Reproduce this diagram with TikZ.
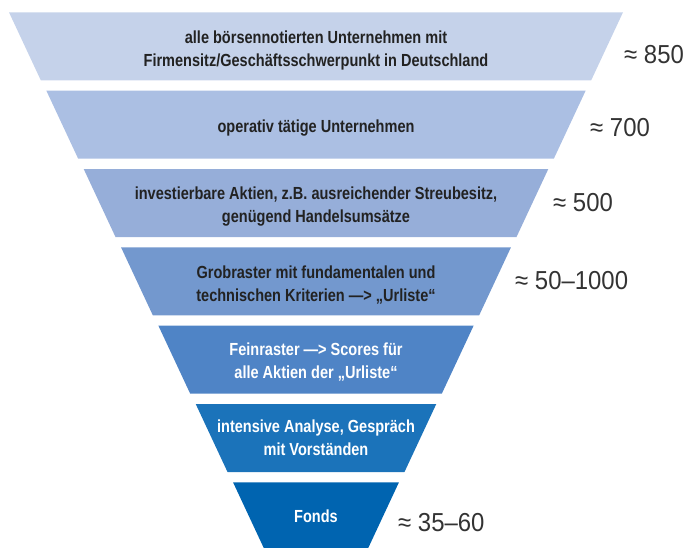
\documentclass[tikz,border=0pt]{standalone}
\usepackage{fontspec}
\usepackage{tikz}
\usetikzlibrary{positioning}

\newfontfamily\stufefont[FakeStretch=0.83]{Liberation Sans}
\newfontfamily\zahlfont[FakeStretch=0.92]{Liberation Sans}

\definecolor{stufeA}{HTML}{C5D2EA}
\definecolor{stufeB}{HTML}{ABBFE3}
\definecolor{stufeC}{HTML}{96AED9}
\definecolor{stufeD}{HTML}{7398CE}
\definecolor{stufeE}{HTML}{4F84C6}
\definecolor{stufeF}{HTML}{1B73BA}
\definecolor{stufeG}{HTML}{0064B0}
\definecolor{schrift}{HTML}{222222}
\definecolor{zahl}{HTML}{333333}

\tikzset{
	stufentext/.style={inner sep=0pt, align=center, text=schrift,
		font=\stufefont\bfseries\fontsize{17.5}{23.3}\selectfont},
	hell/.style={text=white},
	anzahl/.style={anchor=west, inner sep=0pt, text=zahl, font=\zahlfont\fontsize{26}{26}\selectfont},
}

\begin{document}
\begin{tikzpicture}[x=1pt,y=1pt]
	\useasboundingbox (0,0) rectangle (688,-547);
	\clip (0,0) rectangle (688,-547);
	% Trichter
	\fill[stufeA] (9,-12.3) -- (623,-12.3) -- (591.2,-80.3) -- (40.8,-80.3) -- cycle;
	\fill[stufeB] (46.35,-90.65) -- (585.65,-90.65) -- (553.85,-158.65) -- (78.15,-158.65) -- cycle;
	\fill[stufeC] (83.7,-169) -- (548.3,-169) -- (516.5,-237) -- (115.5,-237) -- cycle;
	\fill[stufeD] (121.05,-247.35) -- (510.95,-247.35) -- (479.15,-315.35) -- (152.85,-315.35) -- cycle;
	\fill[stufeE] (158.4,-325.7) -- (473.6,-325.7) -- (441.8,-393.7) -- (190.2,-393.7) -- cycle;
	\fill[stufeF] (195.75,-404.05) -- (436.25,-404.05) -- (404.45,-472.05) -- (227.55,-472.05) -- cycle;
	\fill[stufeG] (233.1,-482.4) -- (398.9,-482.4) -- (367.1,-550.4) -- (264.9,-550.4) -- cycle;
	% Texte
	\node[stufentext] (alle) at (316,-50.8)
		{alle börsennotierten Unternehmen mit\\Firmensitz/Geschäftsschwerpunkt in Deutschland};
	\node[stufentext] (operativ) at (316,-128.2) {operativ tätige Unternehmen};
	\node[stufentext] (invest) at (316,-206.5)
		{investierbare Aktien, z.B. ausreichender Streubesitz,\\genügend Handelsumsätze};
	\node[stufentext] (grob) at (316,-284.9)
		{Grobraster mit fundamentalen und\\technischen Kriterien —> „Urliste“};
	\node[stufentext, hell] (fein) at (316,-361.7)
		{Feinraster —> Scores für\\alle Aktien der „Urliste“};
	\node[stufentext, hell] (analyse) at (316,-438.05)
		{intensive Analyse, Gespräch\\mit Vorständen};
	\node[stufentext, hell] (fonds) at (316,-516.4) {Fonds};
	% Anzahlen
	\node[anzahl] (nalle) at (624,-55) {≈ 850};
	\node[anzahl] (noperativ) at (590,-128) {≈ 700};
	\node[anzahl] (ninvest) at (553,-203) {≈ 500};
	\node[anzahl] (ngrob) at (515,-281) {≈ 50–1000};
	\node[anzahl] (nfonds) at (398,-523) {≈ 35–60};
\end{tikzpicture}
\end{document}
